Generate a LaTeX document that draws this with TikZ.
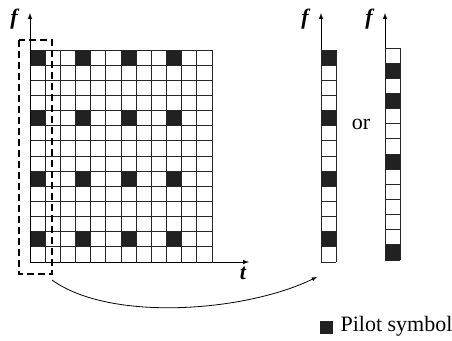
\documentclass[tikz,border=0pt]{standalone}
\usepackage{fontspec}
\setmainfont{Liberation Serif}
\tikzset{
  cell/.style={draw=black!85, line width=0.9pt},
  pilot/.style={fill=black!87},
  axis/.style={line width=1pt, -latex},
  axlabel/.style={font=\fontsize{22}{24}\selectfont\bfseries\itshape},
}
\begin{document}
\begin{tikzpicture}[x=1pt,y=-1pt]
\useasboundingbox (0,0) rectangle (452,340);
\def\cw{15.17}
\def\ch{15.14}

% time-frequency grid
\foreach \c in {0,3,6,9}
  \foreach \r in {0,4,8,12}
    \fill[pilot] (30+\c*\cw,50+\r*\ch) rectangle ++(\cw,\ch);
\foreach \c in {0,...,12}
  \draw[cell] (30+\c*\cw,50) -- (30+\c*\cw,262);
\foreach \r in {0,...,14}
  \draw[cell] (30,50+\r*\ch) -- (212,50+\r*\ch);

\coordinate (origin) at (30,262);
\coordinate (ftop) at (30,13);
\coordinate (tend) at (249,262);
\draw[axis] (origin) -- (ftop);
\draw[axis] (origin) -- (tend);
\node[axlabel] (flab) at (14,19) {f};
\node[axlabel] (tlab) at (243,273) {t};

% selected column
\draw[line width=1.3pt, dash pattern=on 7pt off 4pt] (19,40) rectangle (52,274);

% first column
\foreach \r in {0,4,8,12}
  \fill[pilot] (321,50+\r*\ch) rectangle ++(\cw,\ch);
\foreach \r in {0,...,14}
  \draw[cell] (321,50+\r*\ch) -- ++(\cw,0);
\draw[cell] (321,50) -- (321,262) (321+\cw,50) -- (321+\cw,262);
\coordinate (c1top) at (321,13);
\draw[axis] (321,50) -- (c1top);
\node[axlabel] (flabA) at (305,19) {f};

\node[font=\fontsize{22}{24}\selectfont] (or) at (361,124) {or};

% second column
\foreach \r in {1,3,7,13}
  \fill[pilot] (385,48+\r*\ch) rectangle ++(\cw,\ch);
\foreach \r in {0,...,14}
  \draw[cell] (385,48+\r*\ch) -- ++(\cw,0);
\draw[cell] (385,48) -- (385,260) (385+\cw,48) -- (385+\cw,260);
\coordinate (c2top) at (385,13);
\draw[axis] (385,48) -- (c2top);
\node[axlabel] (flabB) at (369,19) {f};

% mapping arrow
\coordinate (boxend) at (52,280);
\coordinate (colend) at (317,277);
\draw[line width=0.8pt, -latex] (boxend) .. controls (110,322) and (245,312) .. (colend);

% legend
\fill[pilot] (320,321) rectangle (333,334);
\node[anchor=west, font=\fontsize{22}{24}\selectfont] (legend) at (337,326) {Pilot symbol};
\end{tikzpicture}
\end{document}
